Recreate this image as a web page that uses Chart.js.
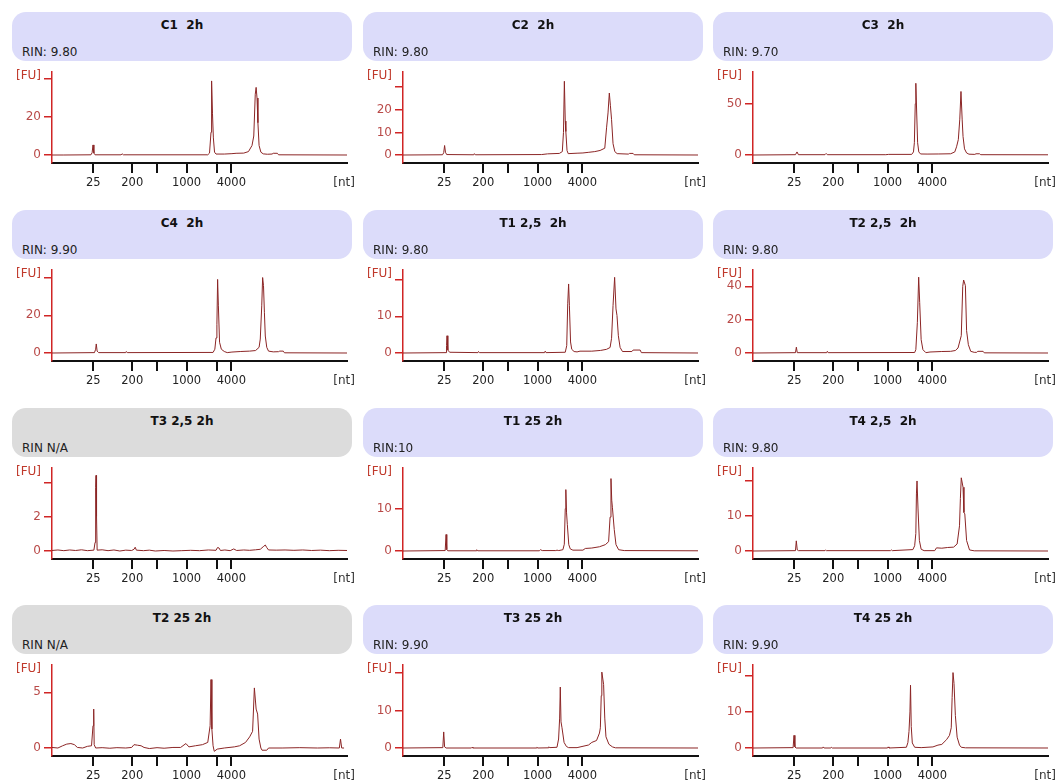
<!DOCTYPE html>
<html>
<head>
<meta charset="utf-8">
<script src="https://cdn.jsdelivr.net/npm/chart.js@4"></script>
<style>
body{margin:0;background:#fff;width:1057px;height:784px;position:relative;overflow:hidden;font-family:"DejaVu Sans",Verdana,sans-serif;}
.cab{position:absolute;width:340px;height:49px;border-radius:14px;background:#dcdcfa;}
.cab.gris{background:#dcdcdc;}
.tit{position:absolute;left:0;right:0;top:6px;text-align:center;font-weight:bold;font-size:12px;color:#111;white-space:pre;}
.rin{position:absolute;left:10px;top:33px;font-size:12px;color:#222;white-space:pre;}
canvas{position:absolute;}
</style>
</head>
<body>
<script>
// eje x: tiempo de migracion [s], marcas de la escalera en nt
const tiempoMin = 19, tiempoMax = 69;
const escalera = [26.0, 32.6, 36.8, 41.8, 47.05, 49.4];
const escaleraEtiquetas = ['25', '200', '', '1000', '', '4000'];

const titulos = ['C1  2h', 'C2  2h', 'C3  2h', 'C4  2h', 'T1 2,5  2h', 'T2 2,5  2h',
                 'T3 2,5 2h', 'T1 25 2h', 'T4 2,5  2h', 'T2 25 2h', 'T3 25 2h', 'T4 25 2h'];
const rines = ['RIN: 9.80', 'RIN: 9.80', 'RIN: 9.70', 'RIN: 9.90', 'RIN: 9.80', 'RIN: 9.80',
               'RIN N/A', 'RIN:10', 'RIN: 9.80', 'RIN N/A', 'RIN: 9.90', 'RIN: 9.90'];

// tope del eje y [FU] y marcas
const yTope = [43.7, 36.7, 81, 44, 22.6, 49.8, 4.83, 19.6, 23.7, 7.46, 22.2, 23];
const yMarcas = [[0,20,40],[0,10,20,30],[0,50],[0,20,40],[0,10,20],[0,20,40],
                 [0,2,4],[0,10],[0,10,20],[0,5],[0,10,20],[0,10,20]];
const yEtiquetas = [['0','20',''],['0','10','20',''],['0','50'],['0','20',''],['0','10',''],['0','20','40'],
                    ['0','2',''],['0','10'],['0','10',''],['0','5'],['0','10',''],['0','10','']];

// electroferogramas [tiempo, FU]
const c1_2h = [[19,0],[21,0],[25.6,0.1],[25.8,1.2],[25.95,5.3],[26.1,1],[26.3,0.1],[30.7,0.1],[30.9,0.6],[31.1,0.1],
  [45.4,0.1],[45.7,1],[45.95,12],[46.05,39],[46.2,22],[46.35,9],[46.55,1.5],[46.8,0.5],[48.2,0.5],[49.5,0.7],[50.2,0.9],
  [51.5,1],[52.3,1.8],[52.9,5],[53.2,10],[53.45,32],[53.6,35.6],[53.75,30],[53.9,17],[54.1,5],[54.4,1.5],[54.8,0.6],
  [55.5,0.4],[56.3,0.5],[56.5,0.9],[57.2,0.9],[57.4,0.1],[69,0]];
const c2_2h = [[19,0],[25.7,0.1],[25.9,1],[26.05,4.2],[26.2,1.2],[26.4,0.2],[31,0.1],[31.1,0.6],[31.25,0.1],[42.5,0.2],
  [43.5,0.5],[45.5,0.7],[46.0,1.5],[46.2,10],[46.35,32.6],[46.5,15],[46.6,10.4],[46.8,2],[47.0,0.6],[48.5,0.8],[49.5,0.9],
  [50.5,1.2],[51.5,1.5],[52.4,2],[53.2,3],[53.5,12],[53.75,18.6],[53.97,27.4],[54.15,22],[54.35,15.6],[54.6,5],[54.9,1.5],
  [55.3,0.6],[57.2,0.4],[57.4,0.7],[58,0.7],[58.2,0.1],[69,0]];
const c3_2h = [[19,0],[26.2,0.3],[26.46,3],[26.7,0.3],[31.2,0.3],[31.4,1.5],[31.6,0.3],[41.5,0.3],[42,0.6],[45.9,0.6],
  [46.2,3],[46.35,12],[46.5,50],[46.6,70],[46.75,40],[46.9,12],[47.1,3],[47.4,1],[48.5,0.9],[50.5,1],[52.5,1.2],[53.2,3],
  [53.5,8],[53.8,15],[54.05,35],[54.25,62],[54.45,35],[54.6,18],[54.85,6],[55.2,2],[55.6,0.8],[56.6,0.6],[56.8,1.2],
  [57.4,1.2],[57.6,0.3],[69,0.2]];
const c4_2h = [[19,0],[26.2,0.2],[26.4,2],[26.5,4.8],[26.65,1],[26.9,0.2],[31.5,0.2],[31.6,0.8],[31.75,0.2],[46.3,0.3],
  [46.6,2],[46.8,8],[46.95,15],[47.07,39],[47.2,25],[47.4,5.7],[47.7,2],[48.2,0.8],[48.7,0.2],[49.5,0.5],[51,0.8],
  [52.5,1],[53.5,1.3],[54.1,3],[54.3,7.4],[54.55,25],[54.7,40],[54.85,35.7],[55.0,21.6],[55.15,9],[55.4,3],[55.7,1],
  [56.5,0.6],[57.4,0.7],[57.6,1],[58.2,1],[58.4,0.1],[69,0]];
const t1_25_2h = [[19,0],[26.3,0.1],[26.38,2],[26.46,4.7],[26.6,0.8],[26.9,0.2],[31.7,0.1],[31.8,0.4],[31.95,0.1],[43,0.1],
  [43.1,0.5],[43.25,0.1],[46.5,0.2],[46.75,2],[46.92,13.4],[47.07,18.8],[47.2,13],[47.4,3],[47.6,1],[48,0.4],[48.5,0.3],
  [49,0.5],[51,0.5],[52.5,0.7],[53.5,1],[54.1,1.5],[54.35,4],[54.6,12.9],[54.87,20.6],[55.1,12],[55.27,10.2],[55.5,4.7],
  [55.8,1.5],[56.2,0.4],[57.8,0.4],[58,0.8],[59.2,0.8],[59.4,0.1],[69,0]];
const t2_25_2h = [[19,0],[26.2,0.2],[26.35,3.5],[26.5,0.2],[31.5,0.2],[31.6,1],[31.75,0.2],[46.4,0.3],[46.6,2],[46.86,18.4],
  [47.08,45.5],[47.25,30.4],[47.5,8],[47.8,2],[48.3,0.2],[49,0.6],[51,0.9],[52.5,1],[53.3,1.5],[53.75,3],[54.3,10.4],
  [54.55,40],[54.7,43.8],[55.0,40.4],[55.2,13.4],[55.5,5],[55.9,1],[56.5,0.4],[56.9,0.4],[57.1,1],[58,1],[58.2,0.1],[69,0]];
const t3_25_2h = [[19,0.03],[20,0.06],[21,0.02],[22,0.06],[23,0.03],[24,0.07],[25,0.02],[26.1,0.05],[26.3,0.5],[26.4,3.7],
  [26.46,4.4],[26.55,2],[26.65,0.05],[27.5,0.07],[28.5,0.02],[29.5,0.06],[30.5,0],[31.5,0.05],[32.5,0.03],[32.9,0.1],
  [33.1,0.22],[33.3,0.05],[34.5,0.02],[35.5,0.05],[36.5,0],[38,0.03],[39.5,0],[41,0.02],[42.5,0.04],[44,0.02],[45.5,0.06],
  [46.8,0.04],[47.05,0.2],[47.3,0.18],[47.55,0.03],[48.3,0.06],[49.2,0.02],[49.8,0.12],[50.3,0.03],[51.5,0.06],[52.5,0.04],
  [53.5,0.07],[54.3,0.1],[54.8,0.25],[55.15,0.35],[55.4,0.2],[55.7,0.06],[57,0.05],[58.5,0.06],[60,0.04],[61.5,0.06],
  [63,0.03],[64.5,0.05],[66,0.02],[67.5,0.04],[69,0.03]];
const t1_25 = [[19,0],[26.15,0.1],[26.3,3.9],[26.42,0.3],[26.6,0.05],[31.4,0.05],[31.5,0.3],[31.65,0.05],[42.1,0.05],
  [42.3,0.3],[42.6,0.1],[44.9,0.1],[45.1,0.2],[45.4,0.1],[46.1,0.3],[46.34,1.6],[46.5,10],[46.6,14.5],[46.72,9],[46.85,6.3],
  [47.1,1.5],[47.35,0.5],[47.8,0.2],[49.5,0.2],[49.9,0.6],[51,0.7],[52.3,1],[53.3,1.5],[53.85,2.2],[54.1,8],[54.25,17.1],
  [54.38,12],[54.5,10.2],[54.8,5.1],[55.1,1.5],[55.55,0.3],[56.5,0.1],[69,0.05]];
const t4_25_2h = [[19,0],[26.2,0.1],[26.34,2.9],[26.5,0.3],[26.7,0.1],[31.2,0.1],[31.3,0.3],[31.45,0.1],[42.3,0.1],
  [42.45,0.3],[42.6,0.1],[46.1,0.4],[46.4,1.5],[46.6,5],[46.7,16.3],[46.8,20],[46.97,12],[47.2,3],[47.5,0.5],[48,0.1],
  [49.8,0.1],[50.1,0.9],[51,0.8],[52,1],[53,1.1],[53.6,2],[54,7.2],[54.15,15],[54.3,20.9],[54.6,18.2],[54.75,11],
  [54.9,10.6],[55.2,3],[55.7,0.3],[56.5,0.05],[69,0]];
const t2_25 = [[19,0.05],[20,0],[20.8,0.2],[21.5,0.35],[22.2,0.4],[22.8,0.3],[23.3,0.05],[24.2,0],[25,0.15],[25.7,0.2],
  [25.95,2],[26.07,3.5],[26.15,0.3],[26.4,0],[27.5,0.03],[28.8,-0.02],[30,0.03],[31.5,0],[32.5,0.05],[32.9,0.3],[33.5,0.25],
  [34.1,0.2],[34.6,0.05],[35.5,-0.05],[36.8,0.03],[38,-0.02],[39.5,0.05],[40.8,0.05],[41.7,0.4],[42.2,0.1],[43.3,0.2],
  [44.5,0.3],[45.4,0.5],[45.8,2],[45.95,6.15],[46.1,1.7],[46.3,0.2],[46.5,-0.3],[47,-0.1],[48.2,0],[49.9,0.1],[50.8,0.2],
  [51.8,0.5],[52.5,1],[53,1.5],[53.3,5.4],[53.6,3.5],[53.85,3.05],[54.1,0.8],[54.4,0],[54.6,-0.2],[55.4,-0.2],[55.7,0],
  [58,0],[61,0.03],[64,0],[66,0.02],[67.7,0],[67.9,0.8],[68.1,0],[68.5,0]];
const t3_25 = [[19,0],[25.75,0.1],[25.9,4.3],[26.05,0.3],[26.3,0],[30.6,0],[30.7,0.2],[30.85,0],[41.6,0],[41.7,0.2],
  [41.85,0],[43.6,0.05],[43.7,0.3],[43.9,0.1],[45.1,0.2],[45.37,2.4],[45.55,8],[45.66,16.3],[45.78,7],[45.95,5.4],[46.3,1.5],
  [46.7,0.4],[47.07,0.1],[48.5,0.1],[50.45,0.8],[51,1.5],[51.8,2],[52.3,4],[52.45,5.4],[52.6,14],[52.7,20.3],[53.0,17],
  [53.2,8],[53.4,3],[53.9,1],[54.5,0.3],[55,0.05],[69,0]];
const t4_25 = [[19,0],[25.8,0.1],[25.95,3.5],[26.1,0.3],[26.3,0],[30.8,0],[30.9,0.3],[31.05,0],[32.2,0],[32.3,0.2],
  [32.45,0],[41.8,0],[41.9,0.3],[42.05,0],[45,0.2],[45.25,1.5],[45.44,4.6],[45.6,10],[45.7,17.4],[45.82,6],[46.0,1.4],
  [46.4,0.2],[47.5,0.1],[49.5,0.3],[50.35,0.8],[51,1],[51.8,2.3],[52.3,3.5],[52.6,5.6],[52.75,14],[52.9,20.9],[53.07,17.9],
  [53.3,9],[53.6,3],[54,0.8],[54.3,0.2],[55,0.05],[69,0]];

const trazas = [c1_2h, c2_2h, c3_2h, c4_2h, t1_25_2h, t2_25_2h, t3_25_2h, t1_25, t4_25_2h, t2_25, t3_25, t4_25];

const columnas = [0, 351, 701];
const filas = [0, 198, 396, 593];

Chart.defaults.font.family = '"DejaVu Sans", Verdana, sans-serif';

// [FU] arriba del eje y, [nt] al final del eje x
const etiquetasEjes = {
    id: 'etiquetasEjes',
    afterDraw(chart) {
        var ctx = chart.ctx, a = chart.chartArea;
        ctx.save();
        ctx.font = '12px "DejaVu Sans"';
        ctx.textAlign = 'right';
        ctx.textBaseline = 'middle';
        ctx.fillStyle = '#c0392b';
        ctx.fillText('[FU]', a.left - 11, a.top + 4);
        ctx.fillStyle = '#333';
        ctx.fillText('[nt]', chart.width - 1, a.bottom + 20);
        ctx.restore();
    }
};

function crearCabecera(i, x, y) {
    var cab = document.createElement('div');
    cab.className = rines[i].indexOf('N/A') >= 0 ? 'cab gris' : 'cab';
    cab.style.left = (x + 12) + 'px';
    cab.style.top = (y + 12) + 'px';
    var t = document.createElement('div');
    t.className = 'tit';
    t.textContent = titulos[i];
    var r = document.createElement('div');
    r.className = 'rin';
    r.textContent = rines[i];
    cab.appendChild(t);
    cab.appendChild(r);
    document.body.appendChild(cab);
}

function crearPanel(i) {
    var x = columnas[i % 3], y = filas[Math.floor(i / 3)];
    crearCabecera(i, x, y);

    var lienzo = document.createElement('canvas');
    lienzo.width = 356;
    lienzo.height = 130;
    lienzo.style.left = x + 'px';
    lienzo.style.top = (y + 64) + 'px';
    document.body.appendChild(lienzo);

    var marcas = yMarcas[i], etiquetas = yEtiquetas[i];
    new Chart(lienzo.getContext('2d'), {
        type: 'line',
        data: {
            datasets: [{
                data: trazas[i],
                borderColor: '#8b2525',
                borderWidth: 1,
                pointRadius: 0,
                tension: 0,
                fill: false
            }]
        },
        options: {
            responsive: false,
            animation: false,
            devicePixelRatio: 1,
            layout: { padding: { top: 8, right: 9, left: 0, bottom: 0 } },
            plugins: { legend: { display: false }, tooltip: { enabled: false } },
            scales: {
                x: {
                    type: 'linear',
                    min: tiempoMin,
                    max: tiempoMax,
                    afterBuildTicks: s => { s.ticks = escalera.map(v => ({ value: v })); },
                    afterFit: s => { s.height = 31; s.paddingLeft = 0; s.paddingRight = 0; },
                    ticks: {
                        autoSkip: false, maxRotation: 0, padding: 3, color: '#222',
                        font: { size: 11.5 },
                        callback: (v, k) => escaleraEtiquetas[k]
                    },
                    grid: { drawOnChartArea: false, tickLength: 10, color: '#111', lineWidth: 2 },
                    border: { display: true, color: '#111', width: 2 }
                },
                y: {
                    min: -yTope[i] * 8 / 83,
                    max: yTope[i],
                    afterBuildTicks: s => { s.ticks = marcas.map(v => ({ value: v })); },
                    afterFit: s => { s.width = 52; s.paddingTop = 0; s.paddingBottom = 0; },
                    ticks: {
                        padding: 3, color: '#b94a48', font: { size: 12 },
                        callback: (v, k) => etiquetas[k]
                    },
                    grid: { drawOnChartArea: false, tickLength: 8, color: '#d02525', lineWidth: 1.5 },
                    border: { display: true, color: '#d02525', width: 1.5 }
                }
            }
        },
        plugins: [etiquetasEjes]
    });
}

for (var i = 0; i < trazas.length; i++) crearPanel(i);
</script>
</body>
</html>
